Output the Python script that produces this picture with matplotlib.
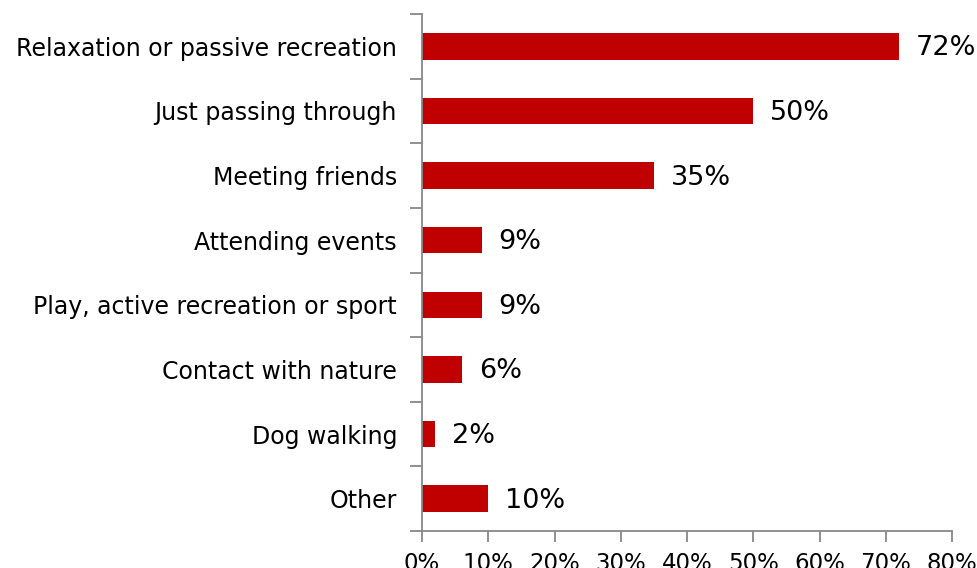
import matplotlib
matplotlib.use("Agg")
import matplotlib.pyplot as plt
import numpy as np

# Reasons for visiting, share of respondents (%)
categories = [
    "Relaxation or passive recreation",
    "Just passing through",
    "Meeting friends",
    "Attending events",
    "Play, active recreation or sport",
    "Contact with nature",
    "Dog walking",
    "Other",
]
values = [72, 50, 35, 9, 9, 6, 2, 10]
x_ticks = [0, 10, 20, 30, 40, 50, 60, 70, 80]

bar_color = "#C00000"
axis_color = "#888888"

W, H = 978, 568
fig = plt.figure(figsize=(W / 100, H / 100), dpi=100)
ax = fig.add_axes([422 / W, 1 - 531 / H, (952 - 422) / W, (531 - 14) / H])

pos = np.arange(len(categories))
ax.barh(pos, values, height=0.41, color=bar_color)

for p, v in zip(pos, values):
    ax.annotate(f"{v}%", (v, p), xytext=(17, -2), textcoords="offset pixels",
                va="center", ha="left", fontsize=19.5, color="black")

ax.set_ylim(len(categories) - 0.5, -0.5)
ax.set_xlim(0, 80)

# category names as label-only minor ticks, boundary marks as major ticks
ax.set_yticks(np.arange(-0.5, len(categories), 1.0))
ax.set_yticklabels([])
ax.set_yticks(pos, minor=True)
ax.set_yticklabels(categories, minor=True, fontsize=17)
ax.tick_params(axis="y", which="minor", length=0, pad=18)
ax.tick_params(axis="y", which="major", length=9, width=1.3, color=axis_color)

ax.set_xticks(x_ticks)
ax.set_xticklabels([f"{t}%" for t in x_ticks], fontsize=16.5)
ax.tick_params(axis="x", length=8, width=1.3, color=axis_color, pad=7)

for side in ["top", "right"]:
    ax.spines[side].set_visible(False)
for side in ["left", "bottom"]:
    ax.spines[side].set_color(axis_color)
    ax.spines[side].set_linewidth(1.3)

fig.savefig("out.png", dpi=100)
